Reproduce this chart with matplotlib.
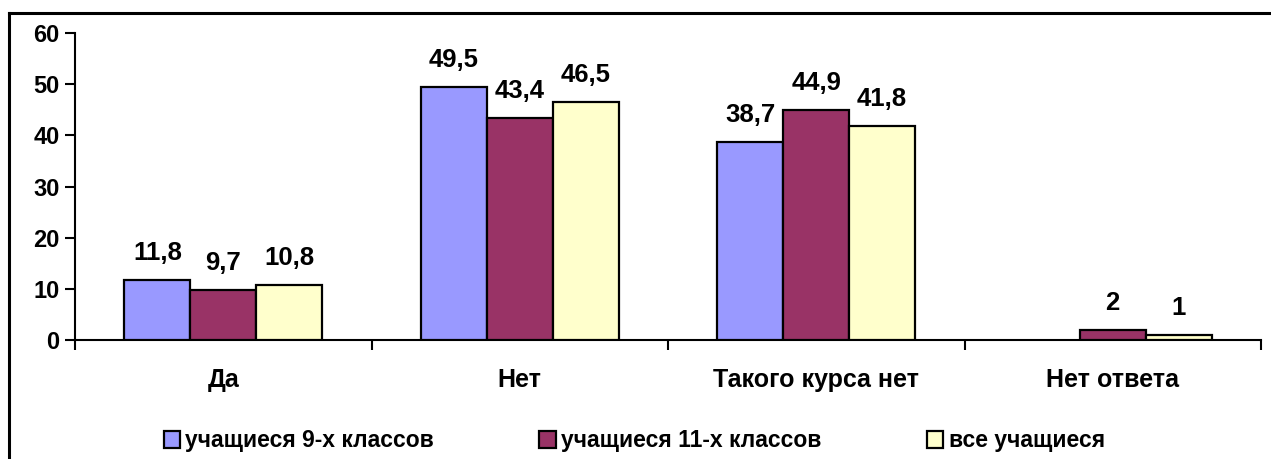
import matplotlib
matplotlib.use("Agg")
import matplotlib.pyplot as plt
import numpy as np
from matplotlib.patches import Patch
from matplotlib.lines import Line2D

categories = ["Да", "Нет", "Такого курса нет", "Нет ответа"]
series_names = ["учащиеся 9-х классов", "учащиеся 11-х классов", "все учащиеся"]
grade9 = [11.8, 49.5, 38.7, 0]
grade11 = [9.7, 43.4, 44.9, 2]
all_students = [10.8, 46.5, 41.8, 1]
labels9 = ["11,8", "49,5", "38,7", ""]
labels11 = ["9,7", "43,4", "44,9", "2"]
labels_all = ["10,8", "46,5", "41,8", "1"]
colors = ["#9999FF", "#993366", "#FFFFCC"]

plt.rcParams['font.family'] = ['Liberation Sans', 'DejaVu Sans']
plt.rcParams['font.weight'] = 'bold'

fig = plt.figure(figsize=(12.71, 4.59), dpi=100)
ax = fig.add_axes([75/1271, 1-340/459, (1261-75)/1271, (340-33)/459])

x = np.arange(len(categories))
w = 1/4.5
series = [grade9, grade11, all_students]
lbls = [labels9, labels11, labels_all]
for i, (vals, lab, c) in enumerate(zip(series, lbls, colors)):
    pos = x + (i-1)*w
    bars = ax.bar(pos, vals, width=w, color=c, edgecolor="black", linewidth=1.6, zorder=3)
    for b, v, t in zip(bars, vals, lab):
        if v == 0:
            b.set_visible(False)
        if t:
            ax.annotate(t, (b.get_x()+b.get_width()/2, v), xytext=(0, 14.4),
                        textcoords="offset points", ha="center", va="baseline",
                        fontsize=18.5, fontweight="bold")

ax.set_xlim(-0.5, len(categories)-0.5)
ax.set_ylim(0, 60)
ax.set_yticks(range(0, 61, 10))
ax.set_xticks(np.arange(-0.5, len(categories), 1.0))
ax.set_xticklabels([])
ax.set_xticks(x, minor=True)
ax.set_xticklabels(categories, minor=True, fontsize=18, fontweight="bold")
ax.tick_params(axis="x", which="minor", length=0, pad=20)
ax.tick_params(axis="x", which="major", length=7, width=1.5, direction="out")
ax.tick_params(axis="y", length=7, width=1.5, direction="out", labelsize=17, pad=4)
for t in ax.get_yticklabels():
    t.set_fontweight("bold")
for s in ["top", "right"]:
    ax.spines[s].set_visible(False)
for s in ["left", "bottom"]:
    ax.spines[s].set_linewidth(1.5)

# outer frame (top and left visible)
fig.add_artist(Line2D([9/1271, 9/1271], [0, 1-13/459], color="black", lw=2.2, transform=fig.transFigure))
fig.add_artist(Line2D([9/1271, 1], [1-13/459, 1-13/459], color="black", lw=2.2, transform=fig.transFigure))

handles = [Patch(facecolor=c, edgecolor="black", linewidth=1.6) for c in colors]
fig.legend(handles, series_names, loc="center", bbox_to_anchor=(0.499, 1-441/459), ncol=3,
           frameon=False, prop={"size": 16.5, "weight": "bold"}, handlelength=0.7,
           handleheight=0.7, handletextpad=0.25, columnspacing=4.6)

fig.savefig("out.png", dpi=100)
